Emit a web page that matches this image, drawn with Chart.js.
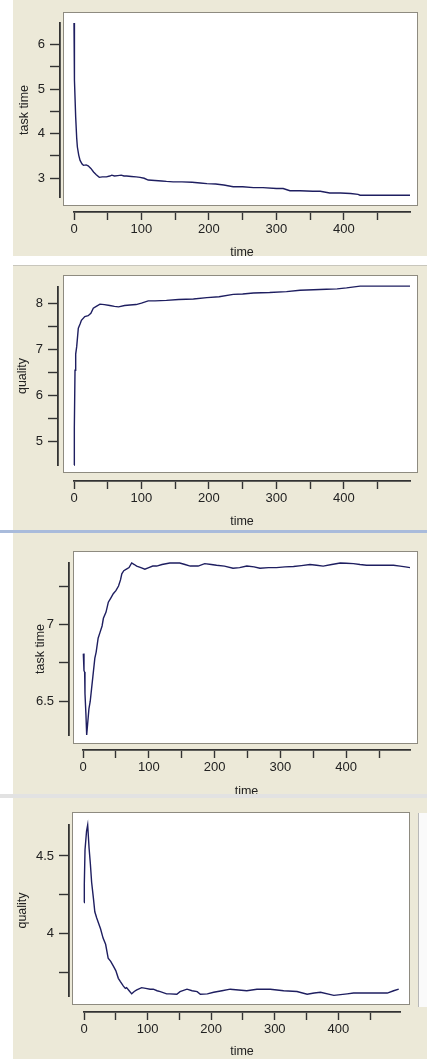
<!DOCTYPE html>
<html><head><meta charset="utf-8">
<script src="https://cdn.jsdelivr.net/npm/chart.js@4.4.1/dist/chart.umd.min.js"></script>
<style>
html,body{margin:0;padding:0;background:#fff;}
body{width:427px;height:1059px;position:relative;overflow:hidden;}
.panel{position:absolute;left:13px;width:414px;background:#ECE9D8;}
canvas{position:absolute;left:0;}
</style></head><body>
<div class="panel" style="top:0;height:256px"></div>
<div class="panel" style="top:265px;height:265px;border-top:1px solid #c8c6bc"></div>
<div style="position:absolute;left:0;top:530px;width:427px;height:3px;background:#a9bbdb"></div>
<div class="panel" style="top:533px;height:261px"></div>
<div class="panel" style="top:798px;height:261px"></div>
<div style="position:absolute;left:418px;top:813px;width:8px;height:194px;background:#fafafa;border-left:1px solid #b8b8b8;"></div>
<canvas id="c1" width="427" height="265" style="top:0px"></canvas>
<canvas id="c2" width="427" height="265" style="top:265px"></canvas>
<canvas id="c3" width="427" height="272" style="top:530px"></canvas>
<canvas id="c4" width="427" height="264" style="top:795px"></canvas>
<div style="position:absolute;left:0;top:794px;width:427px;height:4px;background:#e2e2e2;z-index:5"></div>
<script>
// ---------- data ----------
const xTicks = [0, 50, 100, 150, 200, 250, 300, 350, 400, 450];
const xTickLabels = [0, 100, 200, 300, 400];

// panel 1: task time
const time1 = [0, 0.3, 1, 2.5, 4, 5, 7, 9, 12, 14, 18, 21, 25, 29, 33, 37.5, 42, 48, 53, 56, 60, 65, 70, 74, 78, 85, 92, 98, 104, 110, 120, 130, 137, 147, 160, 175, 187, 197, 210, 222, 236, 250, 266, 280, 300, 310, 320, 335, 354, 365, 379, 395, 410, 421, 424, 440, 460, 480, 498];
const taskTime1 = [6.48, 5.75, 5.2, 4.37, 3.9, 3.70, 3.52, 3.40, 3.32, 3.29, 3.30, 3.28, 3.22, 3.14, 3.08, 3.02, 3.03, 3.03, 3.05, 3.07, 3.05, 3.06, 3.07, 3.05, 3.05, 3.04, 3.03, 3.02, 3.00, 2.96, 2.95, 2.94, 2.93, 2.92, 2.92, 2.91, 2.895, 2.88, 2.87, 2.85, 2.81, 2.81, 2.79, 2.79, 2.77, 2.77, 2.72, 2.72, 2.71, 2.71, 2.67, 2.67, 2.66, 2.64, 2.62, 2.62, 2.62, 2.62, 2.62];
const yTicks1 = [3, 3.5, 4, 4.5, 5, 5.5, 6];
const yTickLabels1 = [3, 4, 5, 6];

// panel 2: quality
const time2 = [0, 0.5, 1.5, 2.5, 4, 6.4, 9, 11, 16, 21, 25, 28.6, 33, 38.5, 45, 53, 60, 66, 75, 83, 92, 100, 110, 120, 137, 155, 177, 197, 215, 236, 250, 266, 290, 315, 335, 355, 374, 390, 404, 424, 450, 475, 498];
const quality1 = [4.50, 5.30, 6.55, 6.9, 7.06, 7.46, 7.55, 7.63, 7.71, 7.73, 7.78, 7.89, 7.93, 7.98, 7.97, 7.95, 7.93, 7.92, 7.95, 7.96, 7.97, 8.00, 8.05, 8.05, 8.06, 8.08, 8.09, 8.12, 8.14, 8.19, 8.20, 8.22, 8.23, 8.25, 8.28, 8.29, 8.30, 8.31, 8.33, 8.37, 8.37, 8.37, 8.37];
const yTicks2 = [5, 5.5, 6, 6.5, 7, 7.5, 8];
const yTickLabels2 = [5, 6, 7, 8];

// panel 3: task time
const time3 = [0.5, 1.5, 2.5, 3, 4.5, 5.6, 7, 9, 11, 13, 15, 18, 20, 23, 26, 29, 31, 35, 38.5, 42, 46, 50, 54, 57, 59, 62, 66, 70, 74, 78, 81.6, 88, 94, 100, 106, 112, 120, 132, 140, 147, 155, 163, 175, 185, 195, 203, 215, 228, 238, 249, 260, 269, 282, 294, 307, 320, 332, 345, 355, 365, 378, 391, 400, 411, 421, 431, 446, 461, 472, 482, 490, 497];
const taskTime2 = [6.81, 6.70, 6.69, 6.55, 6.41, 6.28, 6.35, 6.45, 6.50, 6.58, 6.66, 6.78, 6.82, 6.91, 6.95, 6.99, 7.04, 7.08, 7.145, 7.17, 7.20, 7.22, 7.25, 7.29, 7.33, 7.35, 7.36, 7.37, 7.40, 7.39, 7.38, 7.37, 7.36, 7.37, 7.38, 7.38, 7.39, 7.40, 7.40, 7.40, 7.39, 7.38, 7.38, 7.396, 7.39, 7.385, 7.38, 7.366, 7.37, 7.38, 7.375, 7.366, 7.37, 7.37, 7.375, 7.377, 7.383, 7.39, 7.385, 7.38, 7.39, 7.40, 7.398, 7.396, 7.39, 7.385, 7.385, 7.385, 7.385, 7.38, 7.375, 7.37];
const yTicks3 = [6.5, 6.75, 7, 7.25];
const yTickLabels3 = [6.5, 7];

// panel 4: quality
const time4 = [0, 0.5, 1.6, 4, 5.8, 8, 10, 12, 15, 17, 20, 22.5, 26, 30, 34, 38, 42, 46, 50, 54, 57, 62, 65, 67, 71, 75, 79, 83, 90.7, 97, 104, 109, 115, 120, 130, 135, 146, 151, 162, 170, 178, 183, 194, 204, 217, 230, 243, 256, 272, 293, 314, 335, 351, 362, 372, 393, 414, 424, 450, 477, 487, 495];
const quality2 = [4.20, 4.32, 4.54, 4.66, 4.70, 4.55, 4.45, 4.33, 4.22, 4.14, 4.10, 4.07, 4.03, 3.97, 3.93, 3.84, 3.82, 3.79, 3.76, 3.71, 3.69, 3.66, 3.645, 3.65, 3.63, 3.61, 3.625, 3.635, 3.65, 3.645, 3.64, 3.64, 3.63, 3.624, 3.61, 3.61, 3.607, 3.624, 3.64, 3.63, 3.624, 3.607, 3.61, 3.62, 3.63, 3.64, 3.635, 3.63, 3.64, 3.64, 3.63, 3.625, 3.607, 3.615, 3.62, 3.60, 3.61, 3.615, 3.615, 3.615, 3.63, 3.64];
const yTicks4 = [3.75, 4, 4.25, 4.5];
const yTickLabels4 = [4, 4.5];

// ---------- drawing ----------
const FONT = 'Liberation Sans, Arial, sans-serif';
function makeChart(id, times, values, yLabel, yTicks, yLabels, yMin, yMax, xMax, g) {
  const canvas = document.getElementById(id);
  const W = canvas.width, H = canvas.height;
  const geom = {
    id: 'geom',
    afterLayout(chart) {
      chart.scales.y.right = g.yAxisX;
      chart.scales.x.top = g.xAxisY;
    },
    beforeDraw(chart) {
      const ctx = chart.ctx, b = g.box;
      ctx.save();
      ctx.fillStyle = '#ffffff';
      ctx.fillRect(b.l, b.t, b.r - b.l, b.b - b.t);
      ctx.strokeStyle = '#8e8b80';
      ctx.lineWidth = 1;
      ctx.strokeRect(b.l + 0.5, b.t + 0.5, b.r - b.l - 1, b.b - b.t - 1);
      ctx.restore();
    }
  };
  return new Chart(canvas, {
    type: 'line',
    data: { datasets: [{
      data: times.map((t, i) => ({ x: t, y: values[i] })),
      borderColor: '#1e1e60', borderWidth: 1.4, pointRadius: 0, tension: 0, clip: false, fill: false
    }] },
    options: {
      responsive: false, animation: false, devicePixelRatio: 1,
      events: [],
      layout: { padding: { left: 0, right: W - g.area.r, top: g.area.t, bottom: 0 } },
      plugins: { legend: { display: false }, tooltip: { enabled: false } },
      scales: {
        x: {
          type: 'linear', position: 'bottom', min: 0, max: xMax,
          afterFit(s) { s.height = H - g.area.b; },
          afterBuildTicks(s) { s.ticks = xTicks.map(v => ({ value: v })); },
          ticks: {
            autoSkip: false, maxRotation: 0, padding: 2, color: '#222',
            font: { family: FONT, size: 13 },
            callback: v => xTickLabels.includes(v) ? String(v) : ''
          },
          grid: { drawOnChartArea: false, drawTicks: true, tickLength: 8, tickColor: '#333', tickWidth: 1.4 },
          border: { display: true, color: '#333', width: 1.8 },
          title: { display: true, text: 'time', color: '#222', font: { family: FONT, size: 12.5 }, padding: { top: 0, bottom: g.xTitlePad } }
        },
        y: {
          type: 'linear', position: 'left', min: yMin, max: yMax,
          afterFit(s) { s.width = g.area.l; },
          afterBuildTicks(s) { s.ticks = yTicks.map(v => ({ value: v })); },
          ticks: {
            autoSkip: false, padding: 5, color: '#222',
            font: { family: FONT, size: 13 },
            callback: v => yLabels.includes(v) ? String(v) : ''
          },
          grid: { drawOnChartArea: false, drawTicks: true, tickLength: 10, tickColor: '#333', tickWidth: 1.4 },
          border: { display: true, color: '#333', width: 1.8 },
          title: { display: true, text: yLabel, color: '#222', font: { family: FONT, size: 12.5 }, padding: { top: g.yTitlePad, bottom: 0 } }
        }
      }
    },
    plugins: [geom]
  });
}

makeChart('c1', time1, taskTime1, 'task time', yTicks1, yTickLabels1, 2.58, 6.48, 498, {
  area: { l: 74, r: 410, t: 23, b: 197 }, box: { l: 63, r: 418, t: 12, b: 206 },
  yAxisX: 60, xAxisY: 212, yTitlePad: 17.5, xTitlePad: 4.5 });
makeChart('c2', time2, quality1, 'quality', yTicks2, yTickLabels2, 4.50, 8.35, 498, {
  area: { l: 74, r: 410, t: 22, b: 200 }, box: { l: 63, r: 418, t: 10, b: 208 },
  yAxisX: 58, xAxisY: 216, yTitlePad: 15.5, xTitlePad: 0.5 });
makeChart('c3', time3, taskTime2, 'task time', yTicks3, yTickLabels3, 6.28, 7.40, 497, {
  area: { l: 83, r: 410, t: 33, b: 205 }, box: { l: 73, r: 418, t: 21, b: 214 },
  yAxisX: 69, xAxisY: 220, yTitlePad: 33.5, xTitlePad: 2.5 });
makeChart('c4', time4, quality2, 'quality', yTicks4, yTickLabels4, 3.596, 4.70, 497, {
  area: { l: 84, r: 400, t: 30, b: 201 }, box: { l: 72, r: 410, t: 17, b: 210 },
  yAxisX: 69, xAxisY: 217, yTitlePad: 15.5, xTitlePad: 0 });
</script>
</body></html>
